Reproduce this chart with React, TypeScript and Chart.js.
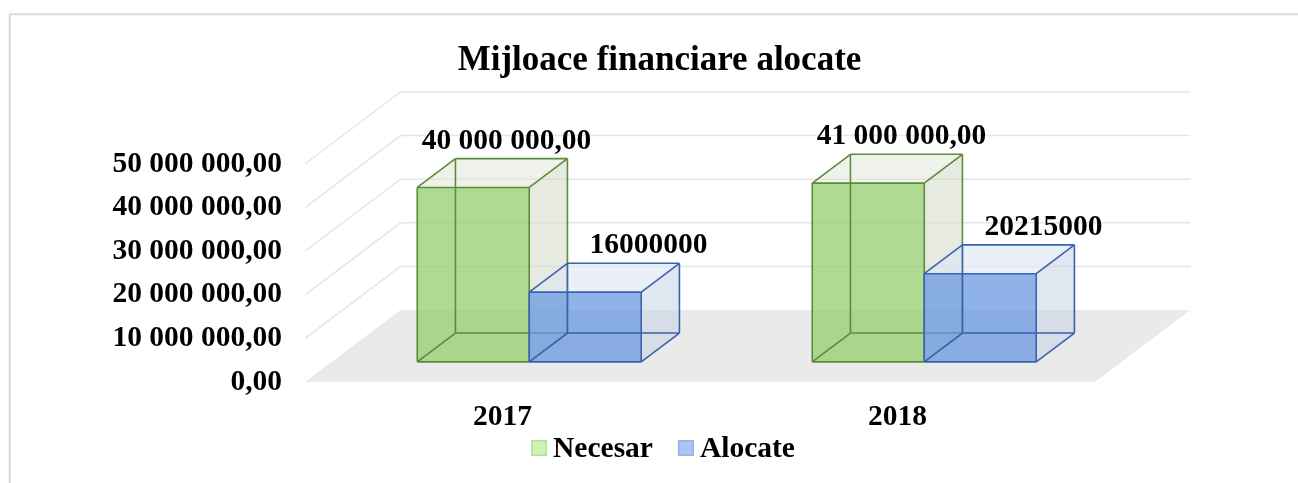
import React, { useEffect, useRef } from 'react';
import { Chart, registerables } from 'chart.js';

Chart.register(...registerables);

// ---- data ----
const categories = ['2017', '2018'];
const seriesNames = ['Necesar', 'Alocate'];
const necesarValues = [40000000, 41000000];
const alocateValues = [16000000, 20215000];
const yTickValues = [0, 10000000, 20000000, 30000000, 40000000, 50000000];
const titleText = 'Mijloace financiare alocate';

// ---- style ----
const FAMILY = "'Liberation Serif', 'Times New Roman', serif";
const FONT_SIZE = 29.5;
const W = 1298;
const H = 483;
const DEPTH_DX = 95.5;
const DEPTH_DY = 72;
const BAR_Z0 = 0.28;
const BAR_Z1 = 0.68;
const LABEL_SHIFT = [60, 90];
const FRONT_FILL = ['rgba(150,205,110,0.75)', 'rgba(100,150,225,0.72)'];
const TOP_FILL = ['rgba(225,232,218,0.55)', 'rgba(222,230,244,0.6)'];
const SIDE_FILL = ['rgba(205,214,196,0.5)', 'rgba(196,208,228,0.5)'];
const EDGE = ['#5b8c3b', '#3a62ae'];
const LEGEND_FILL = ['#cdf2b6', '#a9c7f4'];
const LEGEND_STROKE = ['#b5dc9c', '#93b4e6'];

function fmtNum(v: number): string {
  const s = Math.round(v).toString().replace(/\B(?=(\d{3})+(?!\d))/g, ' ');
  return s + ',00';
}

const dataLabels = [necesarValues.map(fmtNum), alocateValues.map((v) => String(v))];

function proj(x: number, y: number, z: number): [number, number] {
  return [x + z * DEPTH_DX, y - z * DEPTH_DY];
}

function poly(ctx: CanvasRenderingContext2D, pts: [number, number][]) {
  ctx.beginPath();
  ctx.moveTo(pts[0][0], pts[0][1]);
  for (let i = 1; i < pts.length; i++) ctx.lineTo(pts[i][0], pts[i][1]);
  ctx.closePath();
}

const scenePlugin = {
  id: 'scene3d',
  beforeDraw(chart: any) {
    const ctx: CanvasRenderingContext2D = chart.ctx;
    ctx.save();
    ctx.fillStyle = '#ffffff';
    ctx.fillRect(0, 0, chart.width, chart.height);
    // outer frame
    ctx.strokeStyle = '#dadada';
    ctx.lineWidth = 2;
    ctx.beginPath();
    ctx.moveTo(9.7, chart.height + 5);
    ctx.lineTo(9.7, 14.3);
    ctx.lineTo(chart.width + 5, 14.3);
    ctx.stroke();
    // title
    ctx.fillStyle = '#000';
    ctx.font = `bold 35px ${FAMILY}`;
    ctx.textAlign = 'center';
    ctx.textBaseline = 'alphabetic';
    ctx.fillText(titleText, 659.5, 70);
    ctx.restore();
  },
  beforeDatasetsDraw(chart: any) {
    const ctx: CanvasRenderingContext2D = chart.ctx;
    const { left, right } = chart.chartArea;
    const ys = chart.scales.y;
    const y0 = ys.getPixelForValue(0);
    ctx.save();
    // floor
    poly(ctx, [proj(left, y0, 0), proj(right, y0, 0), proj(right, y0, 1), proj(left, y0, 1)]);
    ctx.fillStyle = '#eaeaea';
    ctx.fill();
    // walls gridlines
    ctx.strokeStyle = '#e6e6e6';
    ctx.lineWidth = 1.5;
    yTickValues.forEach((v) => {
      if (v === 0) return;
      const yy = ys.getPixelForValue(v);
      const a = proj(left, yy, 0);
      const b = proj(left, yy, 1);
      const c = proj(right, yy, 1);
      ctx.beginPath();
      ctx.moveTo(a[0], a[1]);
      ctx.lineTo(b[0], b[1]);
      ctx.lineTo(c[0], c[1]);
      ctx.stroke();
    });
    ctx.restore();
  },
  afterDatasetsDraw(chart: any) {
    const ctx: CanvasRenderingContext2D = chart.ctx;
    ctx.save();
    const labelPos: { x: number; y: number; text: string }[] = [];
    chart.data.datasets.forEach((_ds: any, di: number) => {
      const meta = chart.getDatasetMeta(di);
      meta.data.forEach((el: any, i: number) => {
        const { x, y, base, width } = el.getProps(['x', 'y', 'base', 'width'], true);
        const x0 = x - width / 2;
        const x1 = x + width / 2;
        const FBL = proj(x0, base, BAR_Z0);
        const FBR = proj(x1, base, BAR_Z0);
        const FTL = proj(x0, y, BAR_Z0);
        const FTR = proj(x1, y, BAR_Z0);
        const BBL = proj(x0, base, BAR_Z1);
        const BBR = proj(x1, base, BAR_Z1);
        const BTL = proj(x0, y, BAR_Z1);
        const BTR = proj(x1, y, BAR_Z1);
        // faces
        poly(ctx, [FTR, FBR, BBR, BTR]);
        ctx.fillStyle = SIDE_FILL[di];
        ctx.fill();
        poly(ctx, [FTL, FTR, BTR, BTL]);
        ctx.fillStyle = TOP_FILL[di];
        ctx.fill();
        poly(ctx, [FTL, FTR, FBR, FBL]);
        ctx.fillStyle = FRONT_FILL[di];
        ctx.fill();
        // edges
        ctx.strokeStyle = EDGE[di];
        ctx.lineWidth = 1.6;
        ctx.lineJoin = 'round';
        const edges: [number, number][][] = [
          [FTL, FTR], [FTR, FBR], [FBR, FBL], [FBL, FTL],
          [BTL, BTR], [BTR, BBR], [BBR, BBL], [BBL, BTL],
          [FTL, BTL], [FTR, BTR], [FBR, BBR], [FBL, BBL],
        ];
        ctx.beginPath();
        edges.forEach(([p, q]) => {
          ctx.moveTo(p[0], p[1]);
          ctx.lineTo(q[0], q[1]);
        });
        ctx.stroke();
        labelPos.push({ x: x + LABEL_SHIFT[di], y: BTL[1] - 10, text: dataLabels[di][i] });
      });
    });
    ctx.fillStyle = '#000';
    ctx.font = `bold ${FONT_SIZE}px ${FAMILY}`;
    ctx.textAlign = 'center';
    ctx.textBaseline = 'alphabetic';
    labelPos.forEach((l) => ctx.fillText(l.text, l.x, l.y));
    ctx.restore();
  },
  afterDraw(chart: any) {
    const ctx: CanvasRenderingContext2D = chart.ctx;
    ctx.save();
    ctx.font = `bold ${FONT_SIZE}px ${FAMILY}`;
    ctx.textAlign = 'left';
    ctx.textBaseline = 'alphabetic';
    const items = chart.data.datasets.map((d: any) => String(d.label));
    const box = 16;
    const gap = 6;
    const between = 25;
    const widths = items.map((t: string) => ctx.measureText(t).width);
    let total = 0;
    widths.forEach((w: number, i: number) => {
      total += box + gap + w + (i > 0 ? between : 0);
    });
    let cx = 663 - total / 2;
    const yMid = 448;
    items.forEach((t: string, i: number) => {
      ctx.fillStyle = LEGEND_FILL[i];
      ctx.fillRect(cx, yMid - box / 2, box, box);
      ctx.strokeStyle = LEGEND_STROKE[i];
      ctx.lineWidth = 1.5;
      ctx.strokeRect(cx + 0.75, yMid - box / 2 + 0.75, box - 1.5, box - 1.5);
      ctx.fillStyle = '#000';
      ctx.fillText(t, cx + box + gap, 457.3);
      cx += box + gap + widths[i] + between;
    });
    ctx.restore();
  },
};

export default function App() {
  const ref = useRef<HTMLCanvasElement | null>(null);
  useEffect(() => {
    const canvas = ref.current;
    if (!canvas) return;
    const font = { family: FAMILY, size: FONT_SIZE, weight: 'bold' as const };
    const chart = new Chart(canvas, {
      type: 'bar',
      data: {
        labels: categories,
        datasets: [
          {
            label: seriesNames[0],
            data: necesarValues,
            backgroundColor: 'rgba(0,0,0,0)',
            borderWidth: 0,
            categoryPercentage: 0.567,
            barPercentage: 1,
          },
          {
            label: seriesNames[1],
            data: alocateValues,
            backgroundColor: 'rgba(0,0,0,0)',
            borderWidth: 0,
            categoryPercentage: 0.567,
            barPercentage: 1,
          },
        ],
      },
      options: {
        responsive: false,
        animation: false,
        devicePixelRatio: 1,
        layout: { padding: { left: 0, right: 203, top: 164, bottom: 0 } },
        plugins: {
          legend: { display: false },
          title: { display: false },
          tooltip: { enabled: false },
        },
        scales: {
          x: {
            grid: { display: false, drawTicks: false },
            border: { display: false },
            ticks: { font, color: '#000', padding: 17.5, maxRotation: 0 },
            afterFit: (s: any) => {
              s.height = 101;
            },
          },
          y: {
            min: 0,
            max: 50000000,
            grid: { display: false, drawTicks: false },
            border: { display: false },
            afterBuildTicks: (s: any) => {
              s.ticks = yTickValues.map((v) => ({ value: v }));
            },
            ticks: {
              font,
              color: '#000',
              padding: 23,
              callback: (v: any) => fmtNum(Number(v)),
            },
            afterFit: (s: any) => {
              s.width = 305;
            },
          },
        },
      } as any,
      plugins: [scenePlugin],
    });
    return () => chart.destroy();
  }, []);
  return (
    <canvas
      ref={ref}
      width={W}
      height={H}
      style={{ position: 'fixed', left: 0, top: 0, display: 'block' }}
    />
  );
}
